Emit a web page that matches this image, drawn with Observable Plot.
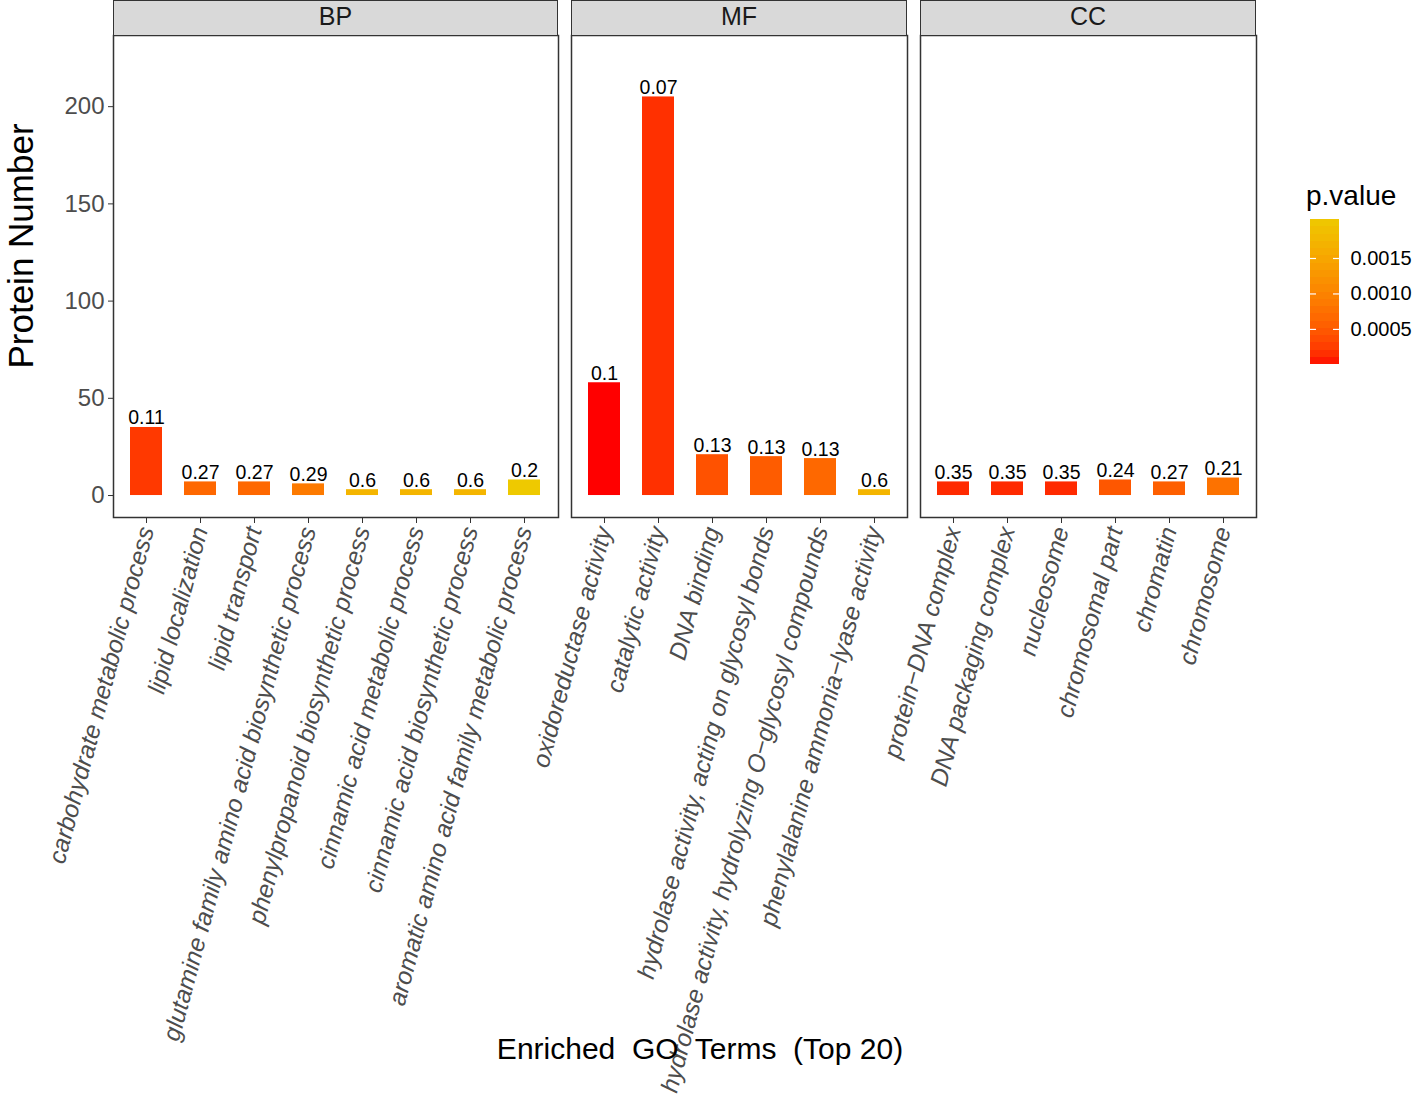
<!DOCTYPE html>
<html><head><meta charset="utf-8">
<script src="https://cdn.jsdelivr.net/npm/d3@7"></script>
<script src="https://cdn.jsdelivr.net/npm/@observablehq/plot@0.6"></script>
<style>
body{margin:0;background:#fff;font-family:"Liberation Sans",Arial,sans-serif;}
#chart{position:relative;width:1412px;height:1096px;overflow:hidden;background:#fff;}
#chart svg{position:absolute;left:0;top:0;}
.strip{position:absolute;top:0;height:36px;box-sizing:border-box;border:1.5px solid #333;background:#D9D9D9;font-size:25px;color:#1a1a1a;text-align:center;line-height:30px;}
.ttl{position:absolute;white-space:pre;color:#000;line-height:1.1;}
</style></head><body><div id="chart"></div>
<script>
// ---- data ----
const bpTerms = ["carbohydrate metabolic process","lipid localization","lipid transport","glutamine family amino acid biosynthetic process","phenylpropanoid biosynthetic process","cinnamic acid metabolic process","cinnamic acid biosynthetic process","aromatic amino acid family metabolic process"];
const bpCounts = [35, 7, 7, 6, 3, 3, 3, 8];
const bpPvals = [0.00022, 0.00065, 0.00065, 0.00088, 0.00173, 0.00173, 0.00173, 0.00205];
const bpLabels = ["0.11","0.27","0.27","0.29","0.6","0.6","0.6","0.2"];

const mfTerms = ["oxidoreductase activity","catalytic activity","DNA binding","hydrolase activity, acting on glycosyl bonds","hydrolase activity, hydrolyzing O\u2212glycosyl compounds","phenylalanine ammonia\u2212lyase activity"];
const mfCounts = [58, 205, 21, 20, 19, 3];
const mfPvals = [0.000005, 0.00016, 0.00043, 0.00053, 0.00066, 0.00173];
const mfLabels = ["0.1","0.07","0.13","0.13","0.13","0.6"];

const ccTerms = ["protein\u2212DNA complex","DNA packaging complex","nucleosome","chromosomal part","chromatin","chromosome"];
const ccCounts = [7, 7, 7, 8, 7, 9];
const ccPvals = [0.00013, 0.00013, 0.00013, 0.00048, 0.00056, 0.00078];
const ccLabels = ["0.35","0.35","0.35","0.24","0.27","0.21"];

const yTicks = [0, 50, 100, 150, 200];
const legendTicks = [0.0005, 0.0010, 0.0015];
const pMin = 0.000005, pMax = 0.00205;

// ---- scales ----
const yDomain = [-11.3, 236.6];
const colorScale = {type: "linear", domain: [pMin, pMax], range: ["#FF0000", "#EEC900"], interpolate: "lab"};
const FONT = "Liberation Sans, Arial, sans-serif";
const chart = document.getElementById("chart");

function panel(name, terms, counts, pvals, labels, left, right, showY) {
  const data = terms.map((t, i) => ({term: t, count: counts[i], p: pvals[i], label: labels[i]}));
  const marks = [
    Plot.barY(data, {x: "term", y: "count", fill: "p"}),
    Plot.text(data, {x: "term", y: "count", text: "label", dy: -3, lineAnchor: "bottom", fontSize: 19.5, fill: "#000"}),
    Plot.frame({stroke: "#333", strokeWidth: 1.5}),
    Plot.axisX({tickRotate: -75, tickSize: 6, tickPadding: 4, fontSize: 24.5, fontStyle: "italic", fill: "#4D4D4D", stroke: "#333", label: null})
  ];
  if (showY) marks.push(Plot.axisY({ticks: yTicks, tickSize: 5, tickPadding: 4, fontSize: 24, fill: "#4D4D4D", stroke: "#333", label: null}));
  const svg = Plot.plot({
    width: right, height: 1096,
    marginLeft: left, marginRight: 0, marginTop: 35, marginBottom: 579,
    x: {type: "band", domain: terms, paddingInner: 0.4, paddingOuter: 0.3},
    y: showY ? {domain: yDomain} : {domain: yDomain, axis: null},
    color: colorScale,
    style: {background: "transparent", overflow: "visible", fontFamily: FONT},
    marks
  });
  chart.appendChild(svg);
  const s = document.createElement("div");
  s.className = "strip";
  s.style.left = left + "px";
  s.style.width = (right - left) + "px";
  s.textContent = name;
  chart.appendChild(s);
}

panel("BP", bpTerms, bpCounts, bpPvals, bpLabels, 113, 558, true);
panel("MF", mfTerms, mfCounts, mfPvals, mfLabels, 571, 907, false);
panel("CC", ccTerms, ccCounts, ccPvals, ccLabels, 920, 1256, false);

// ---- legend ----
const nb = 20;
const bins = d3.range(nb).map(i => ({y1: pMin + (pMax - pMin) * i / nb, y2: pMin + (pMax - pMin) * (i + 1) / nb}));
const leg = Plot.plot({
  width: 122, height: 200,
  marginLeft: 20, marginRight: 73, marginTop: 39, marginBottom: 16,
  x: {domain: [0, 1], axis: null},
  y: {domain: [pMin, pMax]},
  color: colorScale,
  style: {background: "transparent", overflow: "visible", fontFamily: FONT},
  marks: [
    Plot.rect(bins, {x1: 0, x2: 1, y1: "y1", y2: "y2", fill: d => (d.y1 + d.y2) / 2, shapeRendering: "crispEdges"}),
    Plot.ruleY(legendTicks, {stroke: "white", strokeWidth: 1.2, insetRight: 23}),
    Plot.ruleY(legendTicks, {stroke: "white", strokeWidth: 1.2, insetLeft: 23}),
    Plot.axisY({anchor: "right", ticks: legendTicks, tickFormat: d3.format(".4f"), tickSize: 0, tickPadding: 11, fontSize: 20, fill: "#000", label: null})
  ]
});
leg.style.left = "1290px";
leg.style.top = "180px";
chart.appendChild(leg);

function addText(txt, css) {
  const d = document.createElement("div");
  d.className = "ttl";
  d.textContent = txt;
  Object.assign(d.style, css);
  chart.appendChild(d);
}
addText("p.value", {left: "1306px", top: "181px", fontSize: "28px"});
addText("Protein Number", {left: "20px", top: "246px", fontSize: "35px", lineHeight: "1", transform: "translate(-50%,-50%) rotate(-90deg)"});
addText("Enriched  GO  Terms  (Top 20)", {left: "700px", top: "1048px", fontSize: "30px", transform: "translate(-50%,-50%)"});
</script></body></html>
